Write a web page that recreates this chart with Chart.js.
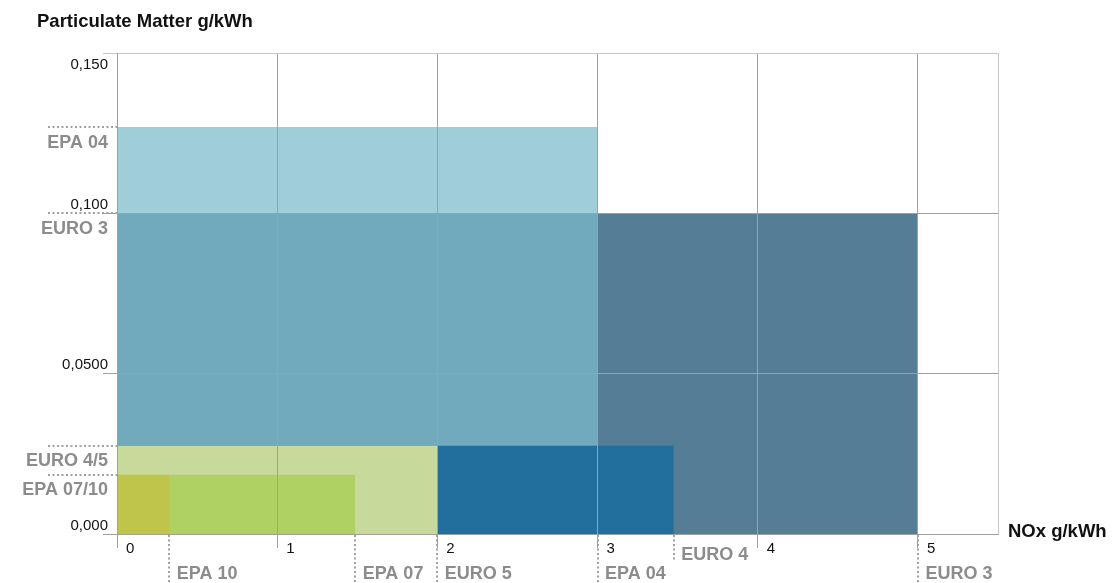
<!DOCTYPE html>
<html>
<head>
<meta charset="utf-8">
<title>Particulate Matter vs NOx</title>
<script src="https://cdn.jsdelivr.net/npm/chart.js@4/dist/chart.umd.min.js"></script>
<style>
    body { margin: 0; background: #fff; }
    #wrap { width: 1117px; height: 583px; position: relative; }
</style>
</head>
<body>
<div id="wrap"><canvas id="myChart"></canvas></div>
<script>

// emission limit boxes, drawn bottom first
let regionNames = ['EURO 3', 'EPA 04', 'EURO 4', 'EURO 5', 'EPA 07', 'EPA 10'];
let regionNox = [5, 3, 3.476, 2, 1.487, 0.326];
let regionPm = [0.1, 0.1269, 0.0275, 0.0275, 0.0185, 0.0185];
let regionColors = ['#557d96', 'rgba(124, 187, 202, 0.735)', '#226f9e', '#c8d99c', '#afd063', '#bfc54a'];

// axis ticks
let xTicks = [0, 1, 2, 3, 4, 5];
let xTickLabels = ['0', '1', '2', '3', '4', '5'];
let xMax = 5.5;
let yTicks = [0, 0.05, 0.1, 0.15];
let yTickLabels = ['0,000', '0,0500', '0,100', '0,150'];
let yMax = 0.15;

// labels at the side and below
let pmLabels = ['EPA 04', 'EURO 3', 'EURO 4/5', 'EPA 07/10'];
let pmValues = [0.1269, 0.1, 0.0275, 0.0185];
let noxLabels = ['EPA 10', 'EPA 07', 'EURO 5', 'EPA 04', 'EURO 4', 'EURO 3'];
let noxValues = [0.326, 1.487, 2, 3, 3.476, 5];

const font = '"Liberation Sans", Arial, sans-serif';
const gridColor = '#a0a0a0';
const frameColor = '#c8c8c8';
const labelGray = '#8c8c8c';

//labels, titles and dotted guide lines
const annotate = {
    id: 'annotate',
    afterDraw(chart) {
        const ctx = chart.ctx;
        const x = chart.scales.x;
        const y = chart.scales.y;

        ctx.save();

        // y tick labels
        ctx.font = '15px ' + font;
        ctx.fillStyle = '#111';
        ctx.textAlign = 'right';
        yTicks.forEach((v, i) => {
            const py = y.getPixelForValue(v);
            ctx.fillText(yTickLabels[i], x.left - 9, v === yMax ? py + 16 : py - 4.5);
        });

        // x tick labels
        ctx.textAlign = 'left';
        xTicks.forEach((v, i) => {
            ctx.fillText(xTickLabels[i], x.getPixelForValue(v) + 9, y.bottom + 19);
        });

        // dotted lines
        ctx.strokeStyle = gridColor;
        ctx.lineWidth = 2;
        ctx.setLineDash([2, 2.5]);

        pmValues.forEach(v => {
            const py = Math.round(y.getPixelForValue(v));
            ctx.beginPath();
            ctx.moveTo(x.left - 69, py);
            ctx.lineTo(x.left, py);
            ctx.stroke();
        });

        noxLabels.forEach((name, i) => {
            const px = Math.round(x.getPixelForValue(noxValues[i]));
            const raised = name === 'EURO 4';
            ctx.beginPath();
            ctx.moveTo(px, y.bottom + 1);
            ctx.lineTo(px, raised ? y.bottom + 28 : chart.height);
            ctx.stroke();
        });
        ctx.setLineDash([]);

        // limit names
        ctx.font = 'bold 18px ' + font;
        ctx.fillStyle = labelGray;
        ctx.textAlign = 'right';
        pmLabels.forEach((name, i) => {
            ctx.fillText(name, x.left - 9, y.getPixelForValue(pmValues[i]) + 20.5);
        });

        ctx.textAlign = 'left';
        noxLabels.forEach((name, i) => {
            const px = x.getPixelForValue(noxValues[i]);
            const raised = name === 'EURO 4';
            ctx.fillText(name, px + 7.5, raised ? y.bottom + 26 : y.bottom + 44.5);
        });

        // axis titles
        ctx.font = 'bold 18.5px ' + font;
        ctx.fillStyle = '#111';
        ctx.fillText('Particulate Matter g/kWh', 37, 27);
        ctx.fillText('NOx g/kWh', x.right + 10, y.bottom + 2.5);

        ctx.restore();
    }
};

let datasets = regionNames.map((name, i) => ({
    label: name,
    data: [{ x: 0, y: regionPm[i] }, { x: regionNox[i], y: regionPm[i] }],
    backgroundColor: regionColors[i],
    borderWidth: 0,
    pointRadius: 0,
    fill: 'origin',
    order: -i
}));

let myChart = document.getElementById('myChart').getContext('2d');

let chart = new Chart(myChart, {

    type: 'line',
    data: {
        datasets: datasets
    },
    plugins: [annotate],
    options: {
        responsive: true,
        maintainAspectRatio: false,
        animation: false,
        layout: {
            padding: { left: 103, top: 53, right: 119, bottom: 35 }
        },
        plugins: {
            legend: { display: false },
            tooltip: { enabled: false },
            title: { display: false }
        },
        scales: {
            x: {
                type: 'linear',
                min: 0,
                max: xMax,
                afterBuildTicks: scale => {
                    scale.ticks = xTicks.concat([xMax]).map(v => ({ value: v }));
                },
                ticks: { display: false },
                grid: {
                    z: 1,
                    color: c => (c.tick && c.tick.value === xMax ? frameColor : gridColor),
                    tickColor: c => (c.tick && c.tick.value === xMax ? 'rgba(0,0,0,0)' : gridColor),
                    tickLength: 14,
                    lineWidth: 1
                },
                border: { z: 1, color: gridColor, width: 1 }
            },
            y: {
                type: 'linear',
                min: 0,
                max: yMax,
                afterBuildTicks: scale => {
                    scale.ticks = yTicks.map(v => ({ value: v }));
                },
                ticks: { display: false },
                grid: {
                    z: 1,
                    color: c => (c.tick && c.tick.value === yMax ? frameColor : gridColor),
                    tickColor: c => (c.tick && c.tick.value === yMax ? frameColor : gridColor),
                    tickLength: 14,
                    lineWidth: 1
                },
                border: { z: 1, color: gridColor, width: 1 }
            }
        }
    }

});

</script>
</body>
</html>
